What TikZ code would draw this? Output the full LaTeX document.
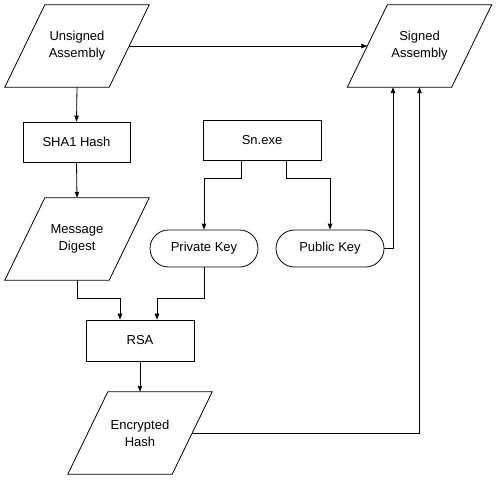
\documentclass[tikz,border=0pt]{standalone}
\usepackage{fontspec}
\setmainfont{Liberation Sans}
\usetikzlibrary{shapes.misc,arrows.meta}
\begin{document}
\begin{tikzpicture}[x=1pt,y=-1pt,
  every node/.style={font=\fontsize{13}{17}\selectfont, align=center, inner sep=0pt},
  io/.style={rectangle, minimum width=104pt, minimum height=82pt},
  proc/.style={draw, rectangle, minimum height=40pt, line width=0.8pt},
  keybox/.style={draw, rounded rectangle, minimum width=108pt, minimum height=37pt, line width=0.8pt},
  ioedge/.style={line width=0.8pt, line join=miter},
  conn/.style={line width=0.8pt, -{Triangle[length=6pt,width=4.5pt]}}
]
\useasboundingbox (0,0) rectangle (497,479);
\node[io] (ua) at (77,46) {Unsigned\\Assembly};
\node[io] (sa) at (419.5,46) {Signed\\Assembly};
\node[proc, minimum width=107pt] (sha) at (76.5,142) {SHA1 Hash};
\node[io] (md) at (77,239) {Message\\Digest};
\node[proc, minimum width=118pt] (sn) at (262,140) {Sn.exe};
\node[keybox] (pk) at (204,248.5) {Private Key};
\node[keybox] (pub) at (330,248.5) {Public Key};
\node[proc, minimum width=108pt, minimum height=41pt] (rsa) at (140,340.5) {RSA};
\node[io] (eh) at (140,433) {Encrypted\\Hash};
\foreach \n in {ua,sa,md,eh}
  \draw[ioedge] ([xshift=20pt]\n.north west) -- ([xshift=20pt]\n.north east)
     -- ([xshift=-20pt]\n.south east) -- ([xshift=-20pt]\n.south west) -- cycle;

\draw[conn] (ua.east) -- (sa.west);
\draw[conn] (ua.south) -- (sha.north);
\draw[conn] (sha.south) -- (md.north);
\draw[conn] ([xshift=-21pt]sn.south) -- ++(0,18) -| (pk.north);
\draw[conn] ([xshift=24pt]sn.south) -- ++(0,18) -| (pub.north);
\draw[conn] (md.south) -- ++(0,18) -| ([xshift=-20pt]rsa.north);
\draw[conn] (pk.south) -- ++(0,31) -| ([xshift=17pt]rsa.north);
\draw[conn] (rsa.south) -- (eh.north);
\draw[conn] (pub.east) -| ([xshift=-26.5pt]sa.south);
\draw[conn] (eh.east) -| (sa.south);
\end{tikzpicture}
\end{document}
